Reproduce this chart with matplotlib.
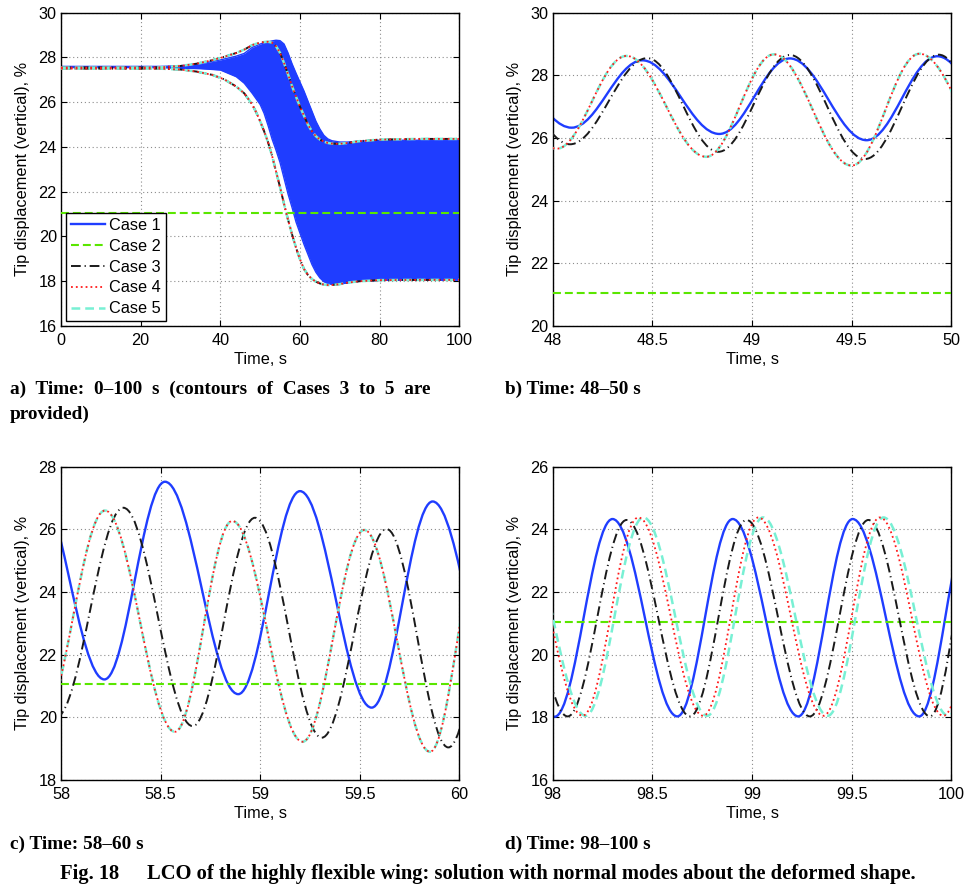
import matplotlib
matplotlib.use("Agg")
import matplotlib.pyplot as plt
from matplotlib.path import Path
from matplotlib.patches import PathPatch
from matplotlib.ticker import FuncFormatter, MultipleLocator

# ---------------------------------------------------------------- data
case_labels = ["Case 1", "Case 2", "Case 3", "Case 4", "Case 5"]

# Case 2: static tip displacement (%)
case2_level = 21.05

# (a) 0-100 s: oscillation envelope of Case 1 (upper / lower bounds)
t_c1 = [0, 25, 30, 35, 40, 44, 46, 48, 49, 50, 51, 52, 53, 54, 55, 56, 57, 58,
        59, 60, 61, 62, 63, 64, 65, 66, 67, 68, 70, 72, 75, 80, 100]
c1_upper = [27.6, 27.6, 27.63, 27.72, 27.89, 28.06, 28.18, 28.45, 28.52, 28.6,
            28.66, 28.7, 28.74, 28.77, 28.75, 28.6, 28.2, 27.72, 27.3, 26.9,
            26.5, 26.05, 25.6, 25.15, 24.8, 24.52, 24.36, 24.28,
            24.22, 24.22, 24.26, 24.3, 24.3]
c1_lower = [27.55, 27.55, 27.52, 27.5, 27.44, 27.14, 26.85, 26.4, 26.15, 25.9,
            25.5, 24.95, 24.35, 23.85, 23.3, 22.6, 21.9, 21.3, 20.65, 20.15,
            19.65, 19.2, 18.75, 18.4, 18.15, 17.98, 17.9, 17.86,
            17.87, 17.93, 18.0, 18.04, 18.05]

# (a) contours (upper / lower envelopes) of Cases 3 to 5
t_c345 = [0, 20, 25, 30, 34, 38, 41, 44, 46, 48, 49, 50, 51, 52, 53, 54, 55, 56,
          57, 58, 59, 60, 61, 62, 63, 64, 65, 66, 67, 68, 70, 72, 75, 80, 90, 100]
c345_upper = [27.55, 27.55, 27.56, 27.62, 27.72, 27.88, 28.03, 28.2, 28.35, 28.55,
              28.61, 28.66, 28.69, 28.7, 28.66, 28.5, 28.2, 27.75, 27.25, 26.72,
              26.25, 25.8, 25.4, 25.0, 24.7, 24.48, 24.33, 24.24, 24.18, 24.15,
              24.14, 24.18, 24.26, 24.33, 24.36, 24.36]
c345_lower = [27.5, 27.5, 27.5, 27.46, 27.37, 27.22, 27.02, 26.7, 26.4, 25.9,
              25.55, 25.15, 24.7, 24.2, 23.6, 22.9, 22.2, 21.45, 20.75, 20.1,
              19.5, 18.98, 18.55, 18.28, 18.1, 17.98, 17.9, 17.85, 17.83, 17.83,
              17.87, 17.94, 18.0, 18.05, 18.06, 18.06]

# (b) 48-50 s: successive peaks / troughs (time, value)
case1_b_t = [47.72, 48.095, 48.45, 48.836, 49.19, 49.575, 49.93, 50.32]
case1_b_v = [28.42, 26.33, 28.48, 26.13, 28.54, 25.93, 28.61, 25.75]
case3_b_t = [47.71, 48.087, 48.475, 48.831, 49.19, 49.567, 49.937, 50.30]
case3_b_v = [28.45, 25.80, 28.55, 25.56, 28.65, 25.33, 28.66, 25.10]
case4_b_t = [47.65, 48.02, 48.37, 48.77, 49.11, 49.50, 49.84, 50.27]
case4_b_v = [28.55, 25.66, 28.62, 25.40, 28.67, 25.12, 28.69, 24.85]
case5_b_t = [47.65, 48.02, 48.37, 48.77, 49.11, 49.50, 49.84, 50.27]
case5_b_v = [28.55, 25.66, 28.62, 25.40, 28.67, 25.12, 28.69, 24.85]

# (c) 58-60 s
case1_c_t = [57.86, 58.218, 58.522, 58.89, 59.20, 59.56, 59.866, 60.23]
case1_c_v = [27.8, 21.21, 27.52, 20.74, 27.22, 20.31, 26.89, 19.9]
case3_c_t = [57.975, 58.313, 58.661, 58.974, 59.309, 59.635, 59.945, 60.24]
case3_c_v = [20.0, 26.69, 19.72, 26.37, 19.35, 26.01, 19.04, 25.7]
case4_c_t = [57.90, 58.221, 58.572, 58.86, 59.213, 59.523, 59.853, 60.12]
case4_c_v = [19.8, 26.6, 19.54, 26.27, 19.22, 25.98, 18.9, 25.7]
case5_c_t = [57.90, 58.221, 58.572, 58.86, 59.213, 59.523, 59.853, 60.12]
case5_c_v = [19.8, 26.6, 19.54, 26.27, 19.22, 25.98, 18.9, 25.7]

# (d) 98-100 s
case1_d_t = [97.68, 98.01, 98.30, 98.625, 98.903, 99.232, 99.505, 99.839, 100.10]
case1_d_v = [24.33, 18.02, 24.33, 18.03, 24.33, 18.03, 24.33, 18.03, 24.33]
case3_d_t = [97.76, 98.075, 98.371, 98.689, 98.973, 99.29, 99.584, 99.893, 100.14]
case3_d_v = [24.3, 18.03, 24.3, 18.03, 24.3, 18.03, 24.3, 18.03, 24.3]
case4_d_t = [97.825, 98.15, 98.43, 98.755, 99.032, 99.358, 99.642, 99.96, 100.24]
case4_d_v = [24.38, 18.05, 24.38, 18.05, 24.38, 18.05, 24.38, 18.05, 24.38]
case5_d_t = [97.835, 98.165, 98.455, 98.775, 99.055, 99.38, 99.66, 99.985, 100.26]
case5_d_v = [24.38, 18.05, 24.38, 18.05, 24.38, 18.05, 24.38, 18.05, 24.38]

# axis ranges
xlims = {"a": (0, 100), "b": (48, 50), "c": (58, 60), "d": (98, 100)}
ylims = {"a": (16, 30), "b": (20, 30), "c": (18, 28), "d": (16, 26)}
xsteps = {"a": 20, "b": 0.5, "c": 0.5, "d": 0.5}

# ---------------------------------------------------------------- styles
SANS = "Liberation Sans"
SERIF = "Liberation Serif"
FS = 11.7
plt.rcParams["font.family"] = [SANS, "DejaVu Sans"]

STY = {
    "Case 1": dict(color="#1f3dff", lw=1.7, ls="-", z=2.2),
    "Case 2": dict(color="#5ae600", lw=1.5, ls=(0, (3.8, 1.9)), z=3),
    "Case 3": dict(color="#1a1a1a", lw=1.4, ls=(0, (5.0, 2.0, 0.6, 2.0)), z=4),
    "Case 4": dict(color="#ff1a1a", lw=1.3, ls=(0, (1.0, 1.7)), z=6),
    "Case 5": dict(color="#78f0d4", lw=1.8, ls=(0, (3.5, 2.0)), z=5),
}

W, H = 967, 889
fig = plt.figure(figsize=(W / 100, H / 100), dpi=100)


def add_axes_px(left, top, right, bottom):
    return fig.add_axes([left / W, 1 - bottom / H, (right - left) / W, (bottom - top) / H])


def style_axes(ax, key):
    ax.set_xlim(*xlims[key])
    ax.set_ylim(*ylims[key])
    ax.xaxis.set_major_locator(MultipleLocator(xsteps[key]))
    ax.yaxis.set_major_locator(MultipleLocator(2))
    fmt = FuncFormatter(lambda v, p: f"{v:g}")
    ax.xaxis.set_major_formatter(fmt)
    ax.yaxis.set_major_formatter(fmt)
    ax.tick_params(direction="in", length=4, width=0.8, top=True, right=True,
                   labelsize=FS, pad=3, colors="black")
    ax.tick_params(axis="x", pad=5)
    ax.grid(True, linestyle=(0, (1, 2.5)), color="#8c8c8c", linewidth=0.8)
    ax.set_axisbelow(True)
    for s in ax.spines.values():
        s.set_linewidth(1.0)
        s.set_color("black")
    ax.set_xlabel("Time, s", fontsize=FS, labelpad=3)
    ax.set_ylabel("Tip displacement (vertical), %", fontsize=FS, labelpad=6)


K = 0.3634  # Bezier handle fraction giving a half-cosine shape between extrema


def draw_wave(ax, t, v, name):
    st = STY[name]
    verts = [(t[0], v[0])]
    codes = [Path.MOVETO]
    for i in range(1, len(t)):
        d = t[i] - t[i - 1]
        verts += [(t[i - 1] + K * d, v[i - 1]), (t[i] - K * d, v[i]), (t[i], v[i])]
        codes += [Path.CURVE4] * 3
    patch = PathPatch(Path(verts, codes), fill=False, edgecolor=st["color"],
                      linewidth=st["lw"], linestyle=st["ls"], zorder=st["z"],
                      capstyle="butt", joinstyle="round")
    ax.add_patch(patch)


def draw_level(ax):
    st = STY["Case 2"]
    return ax.axhline(case2_level, color=st["color"], lw=st["lw"], ls=st["ls"],
                      zorder=st["z"])


# ---------------------------------------------------------------- (a)
ax_a = add_axes_px(61, 12.7, 459.3, 326)
st1 = STY["Case 1"]
ax_a.fill_between(t_c1, c1_lower, c1_upper, color=st1["color"], lw=0, zorder=2)
ax_a.plot(t_c1, c1_upper, color=st1["color"], lw=1.0, zorder=2.1)
ax_a.plot(t_c1, c1_lower, color=st1["color"], lw=1.0, zorder=2.1)
draw_level(ax_a)
for name in ["Case 3", "Case 4", "Case 5"]:
    st = STY[name]
    for env in (c345_upper, c345_lower):
        ax_a.plot(t_c345, env, color=st["color"], lw=st["lw"], ls=st["ls"],
                  zorder=st["z"])
style_axes(ax_a, "a")
leg_handles = [plt.Line2D([], [], color=STY[n]["color"], lw=STY[n]["lw"], ls=STY[n]["ls"])
               for n in case_labels]
leg = ax_a.legend(leg_handles, case_labels, loc="lower left", fontsize=FS,
                  frameon=True, fancybox=False, framealpha=1, edgecolor="black",
                  borderpad=0.3, labelspacing=0.36, handlelength=2.1,
                  handletextpad=0.25, borderaxespad=0.3)
leg.get_frame().set_linewidth(1.0)
leg.set_zorder(10)

# ---------------------------------------------------------------- (b)
ax_b = add_axes_px(552.7, 12.7, 951.3, 326)
draw_wave(ax_b, case1_b_t, case1_b_v, "Case 1")
draw_level(ax_b)
draw_wave(ax_b, case3_b_t, case3_b_v, "Case 3")
draw_wave(ax_b, case4_b_t, case4_b_v, "Case 4")
draw_wave(ax_b, case5_b_t, case5_b_v, "Case 5")
style_axes(ax_b, "b")

# ---------------------------------------------------------------- (c)
ax_c = add_axes_px(61, 466.7, 459.3, 780)
draw_wave(ax_c, case1_c_t, case1_c_v, "Case 1")
draw_level(ax_c)
draw_wave(ax_c, case3_c_t, case3_c_v, "Case 3")
draw_wave(ax_c, case4_c_t, case4_c_v, "Case 4")
draw_wave(ax_c, case5_c_t, case5_c_v, "Case 5")
style_axes(ax_c, "c")

# ---------------------------------------------------------------- (d)
ax_d = add_axes_px(552.7, 466.7, 951.3, 780)
draw_wave(ax_d, case1_d_t, case1_d_v, "Case 1")
draw_level(ax_d)
draw_wave(ax_d, case3_d_t, case3_d_v, "Case 3")
draw_wave(ax_d, case4_d_t, case4_d_v, "Case 4")
draw_wave(ax_d, case5_d_t, case5_d_v, "Case 5")
style_axes(ax_d, "d")

# ---------------------------------------------------------------- captions
cap = dict(family=SERIF, weight="bold", size=13.9, va="baseline", ha="left")
# first line of (a) is justified to the column width
fig.text(10 / W, 1 - 394 / H,
         "a)  Time:  0\u2013100  s  (contours  of  Cases  3  to  5  are", **cap)
fig.text(10 / W, 1 - 419 / H, "provided)", **cap)
fig.text(505 / W, 1 - 394 / H, "b) Time: 48\u201350 s", **cap)
fig.text(10 / W, 1 - 849 / H, "c) Time: 58\u201360 s", **cap)
fig.text(505 / W, 1 - 849 / H, "d) Time: 98\u2013100 s", **cap)
cap_fig = dict(cap, size=14.8)
fig.text(60 / W, 1 - 879 / H, "Fig. 18", **cap_fig)
fig.text(147 / W, 1 - 879 / H,
         "LCO of the highly flexible wing: solution with normal modes "
         "about the deformed shape.", **cap_fig)

fig.savefig("out.png", dpi=100)
